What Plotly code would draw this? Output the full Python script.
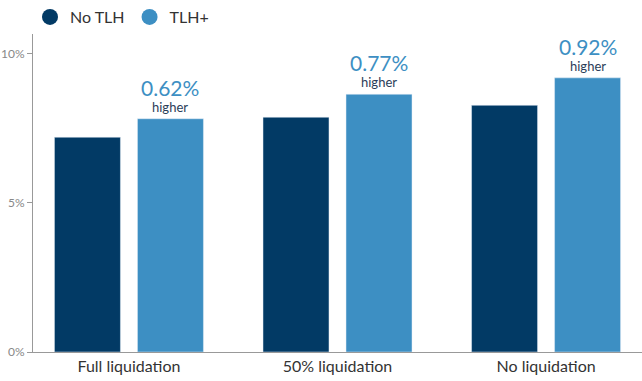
import plotly.graph_objects as go

categories = ["Full liquidation", "50% liquidation", "No liquidation"]
no_tlh = [7.20, 7.87, 8.27]
tlh_plus = [7.82, 8.64, 9.19]
diff_labels = ["0.62%", "0.77%", "0.92%"]
y_ticks = [0, 5, 10]
y_tick_labels = ["0%", "5%", "10%"]

DARK = "#023a65"
LIGHT = "#3d8fc3"
FONT = "Lato"

fig = go.Figure()
fig.add_trace(go.Bar(x=categories, y=no_tlh, name="No TLH", marker_color=DARK,
                     showlegend=False, hoverinfo="skip"))
fig.add_trace(go.Bar(x=categories, y=tlh_plus, name="TLH+", marker_color=LIGHT,
                     showlegend=False, hoverinfo="skip"))
# legend entries with round markers
fig.add_trace(go.Scatter(x=[None], y=[None], mode="markers", name="No TLH",
                         marker=dict(symbol="circle", size=17, color=DARK)))
fig.add_trace(go.Scatter(x=[None], y=[None], mode="markers", name="TLH+",
                         marker=dict(symbol="circle", size=17, color=LIGHT)))

for cat, val, lab in zip(categories, tlh_plus, diff_labels):
    fig.add_annotation(x=cat, y=val, text="higher", showarrow=False,
                       xshift=41.5, yshift=2, yanchor="bottom", xanchor="center",
                       font=dict(family=FONT, size=13, color="#2b3d58"))
    fig.add_annotation(x=cat, y=val, text=lab, showarrow=False,
                       xshift=41.5, yshift=17, yanchor="bottom", xanchor="center",
                       font=dict(family=FONT, size=21, color=LIGHT))

fig.update_layout(
    width=642, height=381,
    margin=dict(l=33, r=0, t=31, b=29),
    paper_bgcolor="white", plot_bgcolor="white",
    barmode="group", bargap=0.204, bargroupgap=0.205,
    font=dict(family=FONT, color="#333333"),
    legend=dict(orientation="h", x=30 / 642, xref="container", xanchor="left",
                y=1, yref="container", yanchor="top",
                font=dict(family=FONT, size=16, color="#333333"),
                itemsizing="trace", bgcolor="rgba(0,0,0,0)"),
    xaxis=dict(range=[-0.46, 2.46], showline=True, linecolor="#999999", linewidth=1,
               ticks="", tickfont=dict(family=FONT, size=16, color="#333333"),
               showgrid=False, fixedrange=True, automargin=False),
    yaxis=dict(range=[0, 10.66], tickvals=y_ticks, ticktext=y_tick_labels, showline=True,
               linecolor="#999999", linewidth=1, ticks="outside", ticklen=5,
               tickcolor="#999999", tickfont=dict(family=FONT, size=12, color="#888888"),
               showgrid=False, zeroline=False, fixedrange=True, automargin=False),
)

fig.write_html("out.html", config={"displayModeBar": False},
               post_script="document.body.style.margin='0';document.body.style.padding='0';")
